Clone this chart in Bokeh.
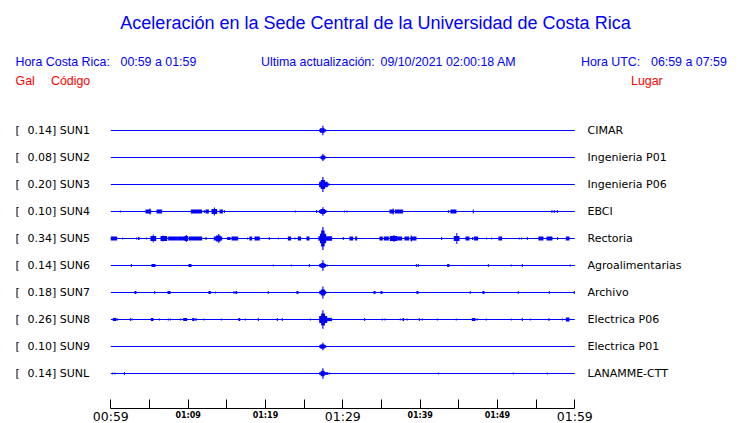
from bokeh.plotting import figure
from bokeh.models import Range1d, FixedTicker
from bokeh.core.properties import value
from bokeh.embed import file_html
from bokeh.resources import INLINE

# ---------------- data ----------------
TITLE = "Aceleración en la Sede Central de la Universidad de Costa Rica"
HDR_CR = ["Hora Costa Rica:", "00:59 a 01:59"]
HDR_UPD = ["Ultima actualización:", "09/10/2021 02:00:18 AM"]
HDR_UTC = ["Hora UTC:", "06:59 a 07:59"]
COL_HEADS = ["Gal", "Código", "Lugar"]

codes = ["SUN1", "SUN2", "SUN3", "SUN4", "SUN5", "SUN6", "SUN7", "SUN8", "SUN9", "SUNL"]
places = ["CIMAR", "Ingenieria P01", "Ingenieria P06", "EBCI", "Rectoria",
          "Agroalimentarias", "Archivo", "Electrica P06", "Electrica P01", "LANAMME-CTT"]
peak_gal = [0.14, 0.08, 0.20, 0.10, 0.34, 0.14, 0.18, 0.26, 0.10, 0.14]

# minutes after 00:59 local time
tick_minutes = [0, 5, 10, 15, 20, 25, 30, 35, 40, 45, 50, 55, 60]
major_tick_labels = {0: "00:59", 30: "01:29", 60: "01:59"}
minor_tick_labels = {10: "01:09", 20: "01:19", 40: "01:39", 50: "01:49"}

# bursts of each trace: (start minute, end minute, half amplitude in trace spacings)
sun1 = [(26.95, 27.85, 0.05), (27.05, 27.65, 0.08), (27.35, 27.50, 0.18)]
sun2 = [(27.00, 27.85, 0.04), (27.20, 27.70, 0.07), (27.35, 27.50, 0.13)]
sun3 = [(26.95, 28.25, 0.05), (26.95, 28.05, 0.10), (27.15, 27.70, 0.17), (27.35, 27.50, 0.28)]
sun4 = [(1.17, 1.30, 0.04), (4.49, 5.22, 0.075), (5.00, 5.13, 0.11), (5.91, 6.64, 0.075),
        (10.35, 11.81, 0.075), (12.03, 12.16, 0.055), (12.25, 12.68, 0.075),
        (13.02, 13.75, 0.09), (13.33, 13.46, 0.15), (14.06, 14.49, 0.075), (14.62, 14.75, 0.055),
        (23.80, 23.93, 0.04), (26.55, 26.68, 0.055),
        (26.90, 27.90, 0.06), (27.10, 27.70, 0.09), (27.35, 27.50, 0.16),
        (30.15, 30.28, 0.04), (30.48, 30.61, 0.04), (36.04, 36.60, 0.075), (36.45, 36.58, 0.11),
        (36.73, 37.80, 0.075), (43.58, 43.71, 0.055), (43.92, 44.70, 0.075), (46.81, 46.94, 0.075),
        (56.98, 57.11, 0.055), (57.28, 57.41, 0.055), (57.67, 57.80, 0.055)]
sun5 = [(0.00, 0.82, 0.075), (1.47, 1.60, 0.04), (3.28, 3.41, 0.04), (3.50, 3.71, 0.055),
        (4.57, 4.70, 0.04), (5.13, 5.87, 0.09), (5.42, 5.55, 0.15), (6.43, 7.29, 0.09),
        (6.68, 6.81, 0.11), (7.42, 8.58, 0.075), (8.58, 9.66, 0.075), (9.53, 10.00, 0.09),
        (9.70, 9.83, 0.13), (10.09, 11.81, 0.075), (12.25, 12.38, 0.055),
        (13.32, 14.40, 0.075), (13.60, 14.20, 0.11), (13.90, 14.03, 0.17),
        (15.05, 15.48, 0.055), (15.61, 16.47, 0.075), (17.63, 17.76, 0.04), (17.93, 18.28, 0.075),
        (18.58, 19.27, 0.075), (20.43, 20.56, 0.055), (21.60, 21.73, 0.04), (22.89, 23.32, 0.075),
        (23.75, 23.88, 0.04), (24.18, 24.61, 0.075), (25.30, 25.69, 0.075),
        (26.85, 28.62, 0.08), (27.05, 27.85, 0.18), (27.20, 27.65, 0.30), (27.35, 27.50, 0.43),
        (30.00, 30.13, 0.055), (30.86, 31.34, 0.075), (31.60, 31.86, 0.075), (34.74, 35.17, 0.075),
        (35.30, 35.95, 0.075), (36.08, 37.03, 0.09), (36.55, 36.68, 0.13), (37.03, 37.67, 0.075),
        (37.98, 38.58, 0.075), (38.75, 39.53, 0.075), (38.80, 38.93, 0.11), (42.72, 42.85, 0.055),
        (44.35, 45.09, 0.09), (44.68, 44.81, 0.20), (45.86, 46.38, 0.075), (46.72, 46.85, 0.055),
        (46.94, 47.50, 0.075), (48.53, 48.66, 0.04), (49.18, 49.31, 0.04), (50.13, 50.60, 0.075),
        (52.76, 52.89, 0.04), (53.06, 53.19, 0.04), (53.79, 53.92, 0.055), (55.30, 55.95, 0.075),
        (56.34, 57.11, 0.075), (57.72, 57.85, 0.055), (58.84, 59.31, 0.075)]
sun6 = [(2.59, 2.72, 0.055), (5.26, 5.78, 0.055), (10.05, 10.43, 0.055), (20.95, 21.08, 0.04),
        (23.28, 23.41, 0.04), (25.61, 25.74, 0.055),
        (26.95, 27.85, 0.06), (27.15, 27.65, 0.09), (27.35, 27.50, 0.19), (27.93, 28.06, 0.04),
        (39.44, 39.57, 0.055), (39.70, 39.83, 0.055), (43.49, 43.79, 0.055), (48.75, 48.88, 0.055),
        (51.72, 51.85, 0.04), (53.15, 53.28, 0.055), (59.35, 59.48, 0.04)]
sun7 = [(3.06, 3.32, 0.055), (5.61, 5.74, 0.055), (7.33, 7.72, 0.055), (12.63, 12.93, 0.055),
        (13.45, 13.58, 0.04), (15.87, 16.00, 0.055), (16.12, 16.34, 0.055), (20.30, 20.43, 0.055),
        (24.01, 24.27, 0.055),
        (26.95, 27.85, 0.06), (27.15, 27.70, 0.11), (27.35, 27.50, 0.22),
        (33.97, 34.23, 0.055), (34.87, 35.13, 0.055), (39.53, 39.79, 0.055), (46.42, 46.55, 0.055),
        (48.06, 48.32, 0.055), (52.63, 52.76, 0.055), (56.64, 56.77, 0.055), (59.87, 60.00, 0.055)]
sun8 = [(0.26, 0.74, 0.055), (0.82, 0.95, 0.04), (2.46, 2.59, 0.055), (2.68, 2.81, 0.04),
        (5.18, 5.52, 0.055), (6.21, 6.34, 0.04), (7.37, 7.50, 0.04), (7.63, 7.76, 0.04),
        (8.97, 9.10, 0.04), (9.36, 9.87, 0.055), (10.52, 10.82, 0.055), (10.95, 11.08, 0.055),
        (11.99, 12.12, 0.04), (14.23, 14.36, 0.04), (16.51, 16.73, 0.055), (17.33, 17.46, 0.04),
        (19.01, 19.14, 0.055), (21.47, 21.60, 0.055), (22.11, 22.24, 0.055), (25.74, 25.87, 0.04),
        (26.99, 28.62, 0.06), (26.95, 27.98, 0.13), (27.20, 27.70, 0.22), (27.35, 27.50, 0.34),
        (32.76, 32.89, 0.055), (35.04, 35.17, 0.04), (35.39, 35.52, 0.04), (37.37, 37.50, 0.04),
        (37.72, 37.93, 0.055), (38.28, 38.41, 0.04), (39.83, 39.96, 0.055), (40.22, 40.35, 0.04),
        (42.16, 42.29, 0.04), (44.61, 44.74, 0.04), (46.68, 47.16, 0.055), (47.33, 47.46, 0.04),
        (48.49, 48.62, 0.04), (51.72, 51.85, 0.04), (53.15, 53.28, 0.055), (54.18, 54.31, 0.04),
        (56.59, 56.72, 0.055), (58.32, 58.45, 0.04), (58.84, 59.31, 0.075)]
sun9 = [(26.95, 27.85, 0.05), (27.10, 27.65, 0.08), (27.35, 27.50, 0.14)]
sunl = [(0.18, 0.31, 0.04), (0.48, 0.61, 0.04), (1.69, 1.82, 0.055),
        (26.95, 28.11, 0.05), (27.15, 27.65, 0.10), (27.35, 27.50, 0.19), (28.19, 28.32, 0.04),
        (42.29, 42.42, 0.04), (51.98, 52.11, 0.04), (56.38, 56.51, 0.04)]
traces = [sun1, sun2, sun3, sun4, sun5, sun6, sun7, sun8, sun9, sunl]

# ---------------- layout ----------------
BLUE = "#0000ff"
RED = "#ff0000"
W, H = 740, 423
X0 = 110.3            # px of minute 0
PPM = 7.733           # px per minute
TOP0 = 130            # px of first trace baseline
SP = 27               # px between traces
AXIS_Y = 408          # px of the time axis line


def xm(px):
    return (px - X0) / PPM


def yp(px):
    return -px


p = figure(width=W, height=H, output_backend="svg", toolbar_location=None,
           x_range=Range1d(xm(0), xm(W)), y_range=Range1d(-H, 0),
           y_axis_location=None, min_border=0, min_border_left=0, min_border_right=0,
           min_border_top=0, min_border_bottom=0)
p.outline_line_color = None
p.grid.visible = False
p.background_fill_color = "white"
p.border_fill_color = "white"

ax = p.xaxis[0]
ax.fixed_location = yp(AXIS_Y)
ax.ticker = FixedTicker(ticks=tick_minutes)
ax.bounds = (tick_minutes[0], tick_minutes[-1])
ax.major_tick_in = 9
ax.major_tick_out = 0
ax.minor_tick_line_color = None
ax.axis_line_color = "black"
ax.major_tick_line_color = "black"
ax.major_label_overrides = {t: major_tick_labels.get(t, "") for t in tick_minutes}
ax.major_label_text_font = "DejaVu Sans"
ax.major_label_text_font_size = "12.5px"
ax.major_label_text_color = "black"
ax.major_label_standoff = 0

# small tick labels
p.text(x=list(minor_tick_labels.keys()), y=[yp(415)] * len(minor_tick_labels),
       text=list(minor_tick_labels.values()), text_align="center", text_baseline="middle",
       text_font=value("DejaVu Sans"), text_font_style="bold", text_font_size="8px",
       text_color="black")

# traces
t_start, t_end = tick_minutes[0], tick_minutes[-1]
for i, bursts in enumerate(traces):
    yb = yp(TOP0 + SP * i)
    p.segment(x0=[t_start], y0=[yb], x1=[t_end], y1=[yb], line_color=BLUE, line_width=1)
    p.quad(left=[b[0] for b in bursts], right=[b[1] for b in bursts],
           bottom=[yb - b[2] * SP for b in bursts], top=[yb + b[2] * SP for b in bursts],
           fill_color=BLUE, line_color=None)

ys = [yp(TOP0 + SP * i) for i in range(len(codes))]
lab_kw = dict(text_font=value("DejaVu Sans"), text_font_size="11px", text_color="black",
              text_baseline="middle", text_align="left")
p.text(x=[xm(15)] * len(codes), y=ys, text=["["] * len(codes), **lab_kw)
p.text(x=[xm(27)] * len(codes), y=ys, text=[f"{g:.2f}] {c}" for g, c in zip(peak_gal, codes)], **lab_kw)
p.text(x=[xm(587)] * len(codes), y=ys, text=places, **lab_kw)

# headers
hfont = value("Liberation Sans")
p.text(x=[xm(375)], y=[yp(22)], text=[TITLE], text_font=hfont, text_font_size="18px",
       text_color=BLUE, text_align="center", text_baseline="middle")
hx = [xm(15), xm(120), xm(260.5), xm(380), xm(580.5), xm(650.5)]
ht = HDR_CR + HDR_UPD + HDR_UTC
p.text(x=hx, y=[yp(61)] * len(hx), text=ht, text_font=hfont, text_font_size="12.4px",
       text_color=BLUE, text_align="left", text_baseline="middle")
p.text(x=[xm(15), xm(50.5), xm(630.5)], y=[yp(80.5)] * 3, text=COL_HEADS, text_font=hfont,
       text_font_size="12.4px", text_color=RED, text_align="left", text_baseline="middle")

open("out.html", "w").write(file_html(p, INLINE))
